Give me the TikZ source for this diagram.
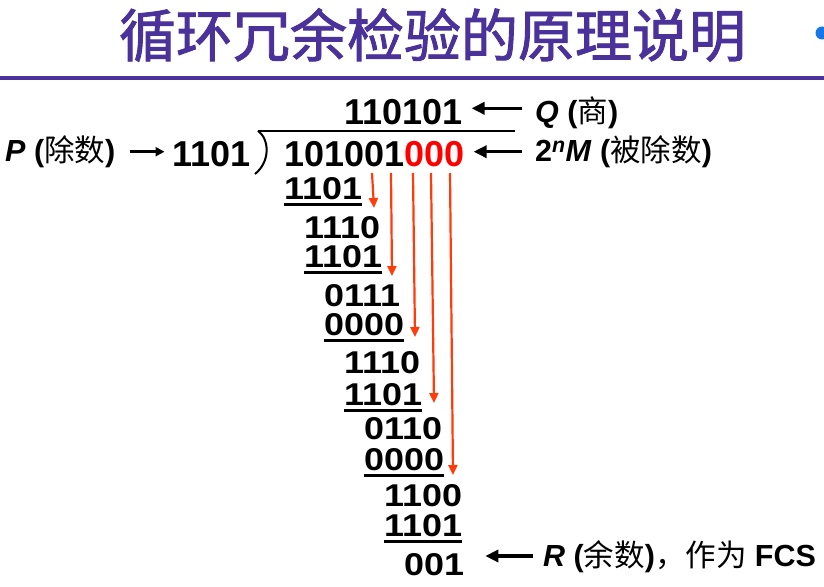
\documentclass[tikz,border=0pt]{standalone}
\usepackage{fontspec}
\setmainfont{Liberation Sans}
\newfontfamily\cjk{Noto Sans CJK SC}
\newfontfamily\titlefont[FakeBold=1.6]{Noto Sans CJK SC}
\newfontfamily\digitfont[FakeStretch=1.14]{Liberation Sans}
\usetikzlibrary{arrows.meta}

\definecolor{titlepurple}{RGB}{75,50,155}
\definecolor{carryred}{RGB}{255,60,10}
\definecolor{dotblue}{RGB}{20,120,230}

\begin{document}
\begin{tikzpicture}[x=1pt,y=-1pt,
  title/.style={inner sep=0pt,font=\fontsize{57}{57}\titlefont,text=titlepurple},
  bigdigits/.style={inner sep=0pt,anchor=base west,font=\fontsize{36}{36}\selectfont\bfseries},
  digits/.style={inner sep=0pt,anchor=base west,font=\fontsize{31.5}{31.5}\digitfont\bfseries},
  lbl/.style={inner sep=0pt,anchor=base west,font=\fontsize{30.5}{30.5}\selectfont},
  carry/.style={draw=carryred,line width=2.2pt,-{Triangle[length=10pt,width=9pt]}},
  pointer/.style={line width=3.5pt,-{Triangle[length=13pt,width=12pt]}},
  parrow/.style={line width=2.7pt,-{Triangle[length=9pt,width=9pt]}},
  uline/.style={line width=3pt}]

\useasboundingbox (0,0) rectangle (824,586);
\clip (0,0) rectangle (824,586);

% title
\node[title] (ttl) at (432.5,35) {循环冗余检验的原理说明};
\draw[titlepurple,line width=3.5pt] (0,78) -- (824,78);
\fill[dotblue] (822,33) circle (6.5);

% divisor, dividend, quotient
\node[lbl] (plbl) at (5,161) {\textbf{\textit{P}} \textbf{(}{\cjk 除数}\textbf{)}};
\node[bigdigits,anchor=base east] (dvs) at (251,166) {1101};
\node[bigdigits] (dvd) at (284,166) {101001\textcolor{red}{000}};
\node[bigdigits] (quo) at (344,124.3) {110101};

\coordinate (barL) at (258,130.7);
\coordinate (barR) at (515,130.7);
\draw[line width=2.2pt] (barL) -- (barR);
\draw[line width=2pt] (barL) .. controls (270,140) and (270,162) .. (255,174);

\coordinate (ptail) at (130,151.7);
\draw[parrow,shorten >=8pt] (ptail) -- (ptail -| dvs.west);

% long division rows
\foreach \Name/\Col/\Base/\Bits/\Line in {r1/0/199.3/1101/1,r2/1/238.3/1110/0,
    r3/1/267.7/1101/1,r4/2/306.7/0111/0,r5/2/335/0000/1,r6/3/373.3/1110/0,
    r7/3/405/1101/1,r8/4/439.3/0110/0,r9/4/470/0000/1,r10/5/506/1100/0,
    r11/5/536/1101/1,r12/6/575/001/0}{
  \node[digits] (\Name) at (284+20*\Col,\Base) {\Bits};
  \ifnum\Line=1
    \draw[uline] ([yshift=-5pt]\Name.base west) -- ([yshift=-5pt]\Name.base east);
  \fi
}

% bits brought down
\foreach \Name/\Xa/\Xb/\Yb in {c4/372/374/208,c5/391/392/276,c6/413/415/337,
    c7/431/434/403,c8/450/453/475}{
  \coordinate (\Name top) at (\Xa,173);
  \coordinate (\Name tip) at (\Xb,\Yb);
  \draw[carry] (\Name top) -- (\Name tip);
}

% labels on the right
\node[lbl] (qlbl) at (535,122.5) {\textbf{\textit{Q}} \textbf{(}{\cjk 商}\textbf{)}};
\coordinate (qtail) at (522,108.3);
\draw[pointer,shorten >=9pt] (qtail) -- (qtail -| quo.east);

\node[lbl] (mlbl) at (535,161.7) {\textbf{2\textsuperscript{\textit{n}}\textit{M}} \textbf{(}{\cjk 被除数}\textbf{)}};
\coordinate (mtail) at (522,151.7);
\draw[pointer,shorten >=9pt] (mtail) -- (mtail -| dvd.east);

\node[lbl] (rlbl) at (543,566.7) {\textbf{\textit{R}} \textbf{(}{\cjk 余数}\textbf{)}{\cjk ，作为} \textbf{FCS}};
\coordinate (rtail) at (533,556);
\draw[pointer,shorten >=21pt] (rtail) -- (rtail -| r12.east);

\end{tikzpicture}
\end{document}
